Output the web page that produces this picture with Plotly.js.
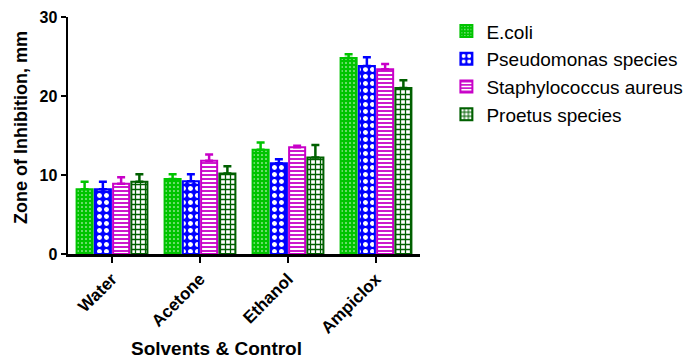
<!DOCTYPE html>
<html>
<head>
<meta charset="utf-8">
<script src="https://cdn.plot.ly/plotly-3.0.1.min.js"></script>
<style>html,body{margin:0;padding:0;background:#fff;}#chart{width:691px;height:358px;}</style>
</head>
<body>
<div id="chart"></div>
<script>
var categories = ["Water", "Acetone", "Ethanol", "Ampiclox"];
var seriesNames = ["E.coli", "Pseudomonas species", "Staphylococcus aureus", "Proetus species"];
var ecoli = [8.2, 9.5, 13.2, 24.8];
var ecoliErr = [0.95, 0.6, 0.9, 0.5];
var pseudo = [8.2, 9.2, 11.5, 23.8];
var pseudoErr = [0.95, 0.9, 0.5, 1.1];
var staph = [8.9, 11.8, 13.5, 23.4];
var staphErr = [0.8, 0.8, 0.2, 0.65];
var proetus = [9.15, 10.2, 12.2, 21.0];
var proetusErr = [0.95, 0.9, 1.6, 1.0];

var colors = ["#00C400", "#0000FF", "#C800C8", "#006000"];
var patterns = [
  {shape: ".", fgcolor: "#ffffff", bgcolor: colors[0], size: 4, solidity: 0.12, fillmode: "replace"},
  {shape: ".", fgcolor: "#ffffff", bgcolor: colors[1], size: 7, solidity: 0.4, fillmode: "replace"},
  {shape: "-", fgcolor: colors[2], bgcolor: "#ffffff", size: 4, solidity: 0.45, fillmode: "replace"},
  {shape: "+", fgcolor: colors[3], bgcolor: "#ffffff", size: 5, solidity: 0.45, fillmode: "replace"}
];
var vals = [ecoli, pseudo, staph, proetus];
var errs = [ecoliErr, pseudoErr, staphErr, proetusErr];

var data = vals.map(function(v, i) {
  return {
    type: "bar",
    name: seriesNames[i],
    x: categories,
    y: v,
    marker: {color: colors[i], pattern: patterns[i], line: {color: colors[i], width: 2}},
    error_y: {type: "data", symmetric: false, array: errs[i], arrayminus: errs[i].map(function(){return 0;}),
              color: colors[i], thickness: 2.5, width: 4}
  };
});

var layout = {
  width: 691, height: 358,
  margin: {l: 68, r: 271, t: 17, b: 104, autoexpand: false},
  paper_bgcolor: "#ffffff", plot_bgcolor: "#ffffff",
  barmode: "group", bargap: 0.17, bargroupgap: 0.12,
  font: {family: "Liberation Sans, Arial, sans-serif", color: "#000"},
  showlegend: true,
  legend: {x: 1.075, xanchor: "left", y: 1.02, yanchor: "top",
           font: {size: 19, color: "#000"}, itemwidth: 30, tracegroupgap: 0},
  xaxis: {
    range: [-0.5, 3.5], showline: true, linecolor: "#000", linewidth: 2.5,
    ticks: "outside", ticklen: 6, tickwidth: 2, tickcolor: "#000",
    tickangle: -45, tickfont: {size: 17, color: "#000", family: "Liberation Sans, Arial, sans-serif", weight: "bold"},
    showgrid: false, zeroline: false, fixedrange: true
  },
  yaxis: {
    range: [0, 30], tickvals: [0, 10, 20, 30], showline: true, linecolor: "#000", linewidth: 2.5,
    ticks: "outside", ticklen: 5, tickwidth: 2, tickcolor: "#000",
    tickfont: {size: 16, color: "#000", family: "Liberation Sans, Arial, sans-serif", weight: "bold"},
    showgrid: false, zeroline: false, fixedrange: true
  },
  annotations: [
    {text: "<b>Solvents & Control</b>", xref: "paper", yref: "paper", x: 0.423, y: -0.40,
     xanchor: "center", yanchor: "middle", showarrow: false, font: {size: 19, color: "#000"}},
    {text: "<b>Zone of Inhibition, mm</b>", xref: "paper", yref: "paper", x: -0.132, y: 0.534,
     xanchor: "center", yanchor: "middle", textangle: -90, showarrow: false, font: {size: 18, color: "#000"}}
  ]
};

Plotly.newPlot("chart", data, layout, {displayModeBar: false, staticPlot: true});
</script>
</body>
</html>
